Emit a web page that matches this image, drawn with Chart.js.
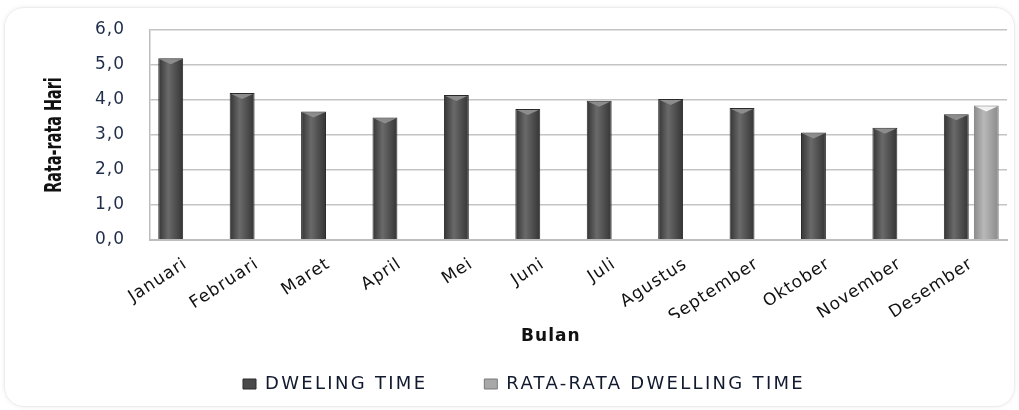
<!DOCTYPE html>
<html>
<head>
<meta charset="utf-8">
<script src="https://cdn.jsdelivr.net/npm/chart.js@4.4.1/dist/chart.umd.min.js"></script>
<style>
  html, body { margin: 0; padding: 0; background: #fff; }
  #frame { position: absolute; left: 4px; top: 7px; width: 1009px; height: 398px;
           border: 1px solid #ececec; border-radius: 20px; box-shadow: 0 0 4px rgba(0,0,0,0.07); }
  #chart { position: absolute; left: 0; top: 0; }
</style>
</head>
<body>
<div id="frame"></div>
<canvas id="chart" width="1019" height="410"></canvas>
<script>
// data
var bulan = ['Januari', 'Februari', 'Maret', 'April', 'Mei', 'Juni', 'Juli',
             'Agustus', 'September', 'Oktober', 'November', 'Desember'];
var dwelingTime = [5.19, 4.20, 3.67, 3.50, 4.14, 3.74, 3.98, 4.03, 3.77, 3.07, 3.21, 3.59];
var rataRata = [null, null, null, null, null, null, null, null, null, null, null, 3.84];
var yTicks = [0, 1, 2, 3, 4, 5, 6];
var yTitle = 'Rata-rata Hari';

var shades = [
    { edge: '#343434', mid: '#6a6a6a', cap: '#8c8c8c', border: '#2a2a2a' },
    { edge: '#8a8a8a', mid: '#b8b8b8', cap: '#f2f2f2', border: '#7a7a7a' }
];

// the picture is a horizontally stretched chart, so most text is spaced out
var wideText = {
    id: 'wideText',
    beforeLayout: function (chart) {
        chart.ctx.letterSpacing = '2.3px';
    },
    beforeDraw: function (chart) {
        var ctx = chart.ctx;
        var area = chart.chartArea;
        ctx.save();
        ctx.letterSpacing = '0px';
        ctx.translate(chart.scales.y.left + 14, (area.top + area.bottom) / 2);
        ctx.rotate(-Math.PI / 2);
        ctx.scale(1, 1.4);
        ctx.font = "bold 16px 'DejaVu Sans Condensed', 'DejaVu Sans'";
        ctx.fillStyle = '#111111';
        ctx.textAlign = 'center';
        ctx.textBaseline = 'middle';
        ctx.fillText(yTitle, 0, 0);
        ctx.restore();
        ctx.letterSpacing = '2.3px';   // legend
    },
    afterDatasetsDraw: function (chart) {
        chart.ctx.letterSpacing = '1px';   // tick labels and "Bulan"
    },
    afterDraw: function (chart) {
        chart.ctx.letterSpacing = '2.3px';
    }
};

// cylinder-like shading on each bar, plus the small cap on top
var barShading = {
    id: 'barShading',
    beforeDatasetsDraw: function (chart) {
        var ctx = chart.ctx;
        chart.data.datasets.forEach(function (ds, i) {
            var meta = chart.getDatasetMeta(i);
            meta.data.forEach(function (bar, j) {
                if (ds.data[j] == null) return;
                var g = ctx.createLinearGradient(bar.x - bar.width / 2, 0, bar.x + bar.width / 2, 0);
                g.addColorStop(0, shades[i].edge);
                g.addColorStop(0.4, shades[i].mid);
                g.addColorStop(1, shades[i].edge);
                bar.options = Object.assign({}, bar.options, { backgroundColor: g });
            });
        });
    },
    afterDatasetsDraw: function (chart) {
        var ctx = chart.ctx;
        chart.data.datasets.forEach(function (ds, i) {
            var meta = chart.getDatasetMeta(i);
            meta.data.forEach(function (bar, j) {
                if (ds.data[j] == null) return;
                var l = bar.x - bar.width / 2 + 1.5, r = bar.x + bar.width / 2 - 1.5;
                ctx.save();
                ctx.fillStyle = shades[i].cap;
                ctx.beginPath();
                ctx.moveTo(l, bar.y + 1);
                ctx.lineTo(r, bar.y + 1);
                ctx.lineTo(bar.x, bar.y + 6);
                ctx.closePath();
                ctx.fill();
                ctx.restore();
            });
        });
    }
};

var chart = new Chart(document.getElementById('chart').getContext('2d'), {
    type: 'bar',
    data: {
        labels: bulan,
        datasets: [{
            label: 'DWELING TIME',
            data: dwelingTime,
            backgroundColor: '#4a4a4a',
            borderColor: shades[0].border,
            borderWidth: 1
        }, {
            label: 'RATA-RATA DWELLING TIME',
            data: rataRata,
            backgroundColor: '#a8a8a8',
            borderColor: shades[1].border,
            borderWidth: 1
        }]
    },
    options: {
        responsive: false,
        animation: false,
        devicePixelRatio: 1,
        categoryPercentage: 0.84,
        barPercentage: 0.83,
        layout: { padding: { left: 41, right: 12, top: 30, bottom: 7 } },
        plugins: {
            tooltip: { enabled: false },
            legend: {
                position: 'bottom',
                labels: {
                    boxWidth: 13,
                    boxHeight: 10,
                    padding: 57,
                    color: '#111a2e',
                    font: { family: 'DejaVu Sans', size: 18 }
                }
            }
        },
        scales: {
            x: {
                afterFit: function (scale) { scale.height = 78; },
                grid: { display: false, z: 1 },
                border: { display: true, color: '#bdbdbd', width: 2, z: 1 },
                ticks: {
                    z: 1,
                    autoSkip: false,
                    minRotation: 33,
                    maxRotation: 33,
                    padding: 6,
                    color: '#111111',
                    font: { family: 'DejaVu Sans', size: 17 }
                },
                title: {
                    display: true,
                    text: 'Bulan        ',
                    color: '#111111',
                    padding: { top: 0, bottom: -29 },
                    font: { family: 'DejaVu Sans', size: 17, weight: 'bold' }
                }
            },
            y: {
                min: 0,
                max: 6,
                afterFit: function (scale) {
                    scale.width = 109;
                    scale.paddingTop = 4;
                    scale.paddingBottom = 4;
                },
                afterBuildTicks: function (scale) {
                    scale.ticks = yTicks.map(function (v) { return { value: v }; });
                },
                grid: { color: '#c4c4c4', lineWidth: 1.5, drawTicks: false },
                border: { display: true, color: '#bdbdbd', width: 1.5 },
                ticks: {
                    z: 1,
                    padding: 25,
                    color: '#1f2d4a',
                    font: { family: 'DejaVu Sans', size: 17 },
                    callback: function (v) { return v.toFixed(1).replace('.', ','); }
                },
                title: { display: false }
            }
        }
    },
    plugins: [wideText, barShading]
});
</script>
</body>
</html>
